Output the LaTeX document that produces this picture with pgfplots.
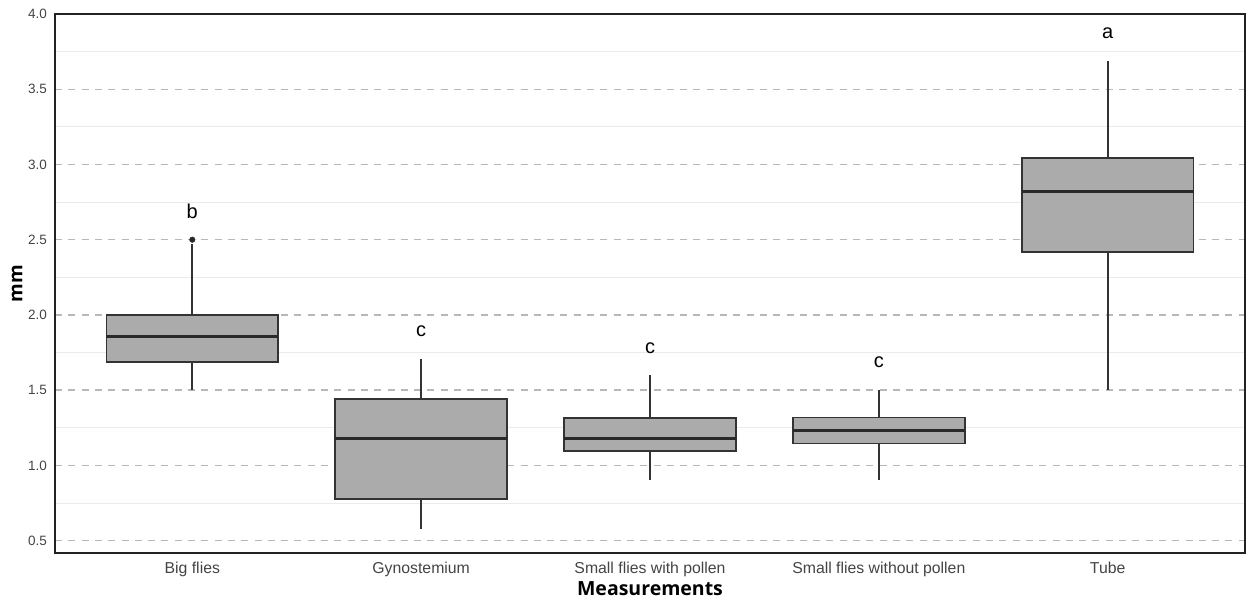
\documentclass[border=0pt]{standalone}
\usepackage{pgfplots}
\pgfplotsset{compat=1.18}
\usepgfplotslibrary{statistics}
\usepackage{fontspec}
\setmainfont{Liberation Sans}
\newfontfamily\labfont{Open Sans}
\definecolor{boxfill}{HTML}{ABABAB}
\definecolor{boxdraw}{HTML}{333333}
\definecolor{majgrid}{HTML}{B8B8B8}
\definecolor{mingrid}{HTML}{EBEBEB}
\definecolor{ticktext}{HTML}{444444}
\definecolor{frame}{HTML}{222222}
\begin{document}
\begin{tikzpicture}
\begin{axis}[
  name=ax,
  scale only axis,
  width=1190pt, height=539pt,
  xmin=0.4, xmax=5.6,
  ymin=0.418, ymax=4.0,
  xtick={1,2,3,4,5},
  xticklabels={Big flies,Gynostemium,Small flies with pollen,Small flies without pollen,Tube},
  ytick={0.5,1.0,1.5,2.0,2.5,3.0,3.5,4.0},
  minor ytick={0.75,1.25,1.75,2.25,2.75,3.25,3.75},
  yticklabel={\pgfmathprintnumber[fixed,fixed zerofill,precision=1]{\tick}},
  /pgf/number format/assume math mode=true,
  major tick length=0pt, minor tick length=0pt,
  ymajorgrids, yminorgrids,
  major grid style={color=majgrid, line width=1.4pt, dash pattern=on 7pt off 6.3pt},
  minor grid style={color=mingrid, line width=1pt},
  axis line style={color=frame, line width=1.8pt},
  xticklabel style={font=\fontsize{15.8}{17}\selectfont, text=ticktext, anchor=base, yshift=-20pt, inner sep=0pt},
  yticklabel style={font=\fontsize{13.5}{15}\selectfont, text=ticktext, anchor=east, xshift=-8pt, inner sep=0pt},
  xlabel={Measurements},
  ylabel={mm},
  xlabel style={font=\labfont\bfseries\fontsize{19.5}{21}\selectfont, at={(axis description cs:0.5,0)}, anchor=base, yshift=-42pt, inner sep=0pt},
  ylabel style={font=\labfont\bfseries\fontsize{19}{21}\selectfont, at={(axis description cs:-0.0319,0.5)}, anchor=center, inner sep=0pt},
  boxplot/draw direction=y,
  boxplot/box extend=0.75,
  boxplot/whisker extend=0,
  boxplot/every median/.style={line width=3pt, draw=boxdraw!80!black},
  boxplot/every box/.style={fill=boxfill, draw=boxdraw, line width=1.8pt},
  boxplot/every whisker/.style={draw=boxdraw, line width=2pt},
  clip=false,
]
\addplot[boxplot prepared={draw position=1, lower whisker=1.50, lower quartile=1.69, median=1.855, upper quartile=2.00, upper whisker=2.47}] coordinates {};
\addplot[boxplot prepared={draw position=2, lower whisker=0.578, lower quartile=0.777, median=1.177, upper quartile=1.443, upper whisker=1.708}] coordinates {};
\addplot[boxplot prepared={draw position=3, lower whisker=0.90, lower quartile=1.098, median=1.179, upper quartile=1.317, upper whisker=1.598}] coordinates {};
\addplot[boxplot prepared={draw position=4, lower whisker=0.90, lower quartile=1.146, median=1.23, upper quartile=1.319, upper whisker=1.50}] coordinates {};
\addplot[boxplot prepared={draw position=5, lower whisker=1.50, lower quartile=2.418, median=2.822, upper quartile=3.043, upper whisker=3.687}] coordinates {};
\addplot[only marks, mark=*, mark size=2.8pt, color=boxdraw!80!black] coordinates {(1,2.5)};
\addplot[draw=none, mark=none, nodes near coords, point meta=explicit symbolic,
  nodes near coords style={anchor=base, font=\fontsize{20}{22}\selectfont, text=black, inner sep=0pt}]
  coordinates {(1,2.643)[b] (2,1.86)[c] (3,1.746)[c] (4,1.651)[c] (5,3.834)[a]};
\end{axis}
\pgfresetboundingbox
\path ([xshift=-55pt,yshift=-48pt]ax.south west) rectangle ([xshift=5pt,yshift=14pt]ax.north east);
\end{tikzpicture}
\end{document}
